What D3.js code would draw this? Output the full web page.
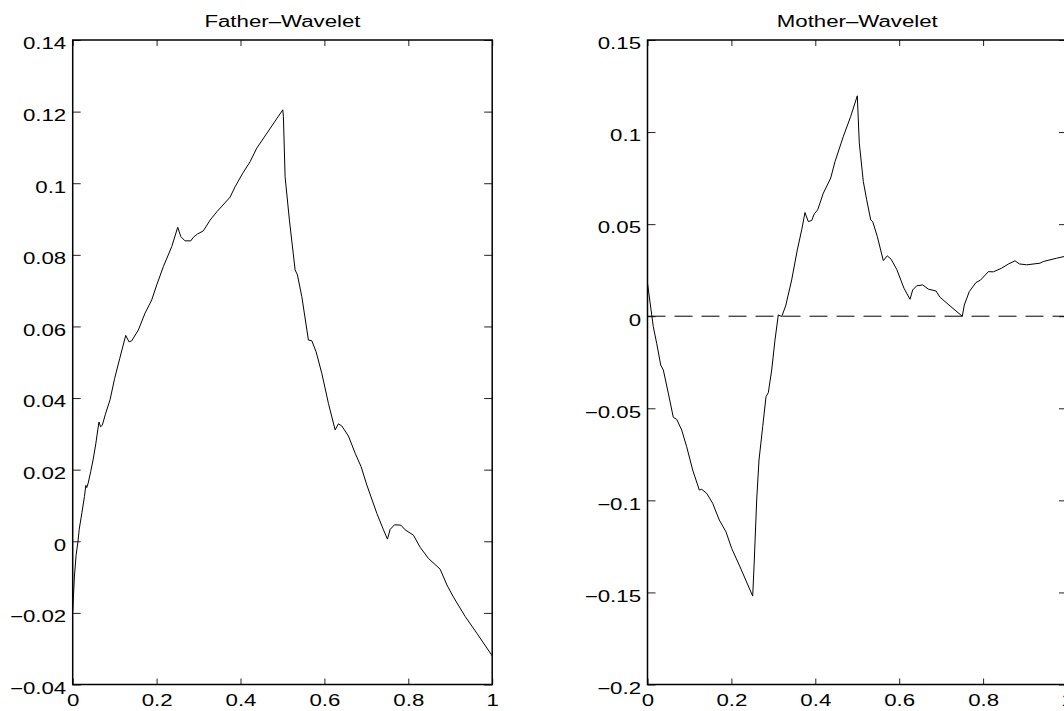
<!DOCTYPE html>
<html>
<head>
<meta charset="utf-8">
<script src="https://cdn.jsdelivr.net/npm/d3@7"></script>
<style>
  body { margin: 0; background: #fff; }
  svg { display: block; }
  text { font-family: "Liberation Sans", Arial, Helvetica, sans-serif; fill: #000; }
</style>
</head>
<body>
<div id="chart"></div>
<script>
// axis ticks / labels
const xTicks = [0, 0.2, 0.4, 0.6, 0.8, 1];
const xTickLabels = ['0', '0.2', '0.4', '0.6', '0.8', '1'];
const fatherYTicks = [-0.04, -0.02, 0, 0.02, 0.04, 0.06, 0.08, 0.1, 0.12, 0.14];
const fatherYTickLabels = ['\u22120.04', '\u22120.02', '0', '0.02', '0.04', '0.06', '0.08', '0.1', '0.12', '0.14'];
const motherYTicks = [-0.2, -0.15, -0.1, -0.05, 0, 0.05, 0.1, 0.15];
const motherYTickLabels = ['\u22120.2', '\u22120.15', '\u22120.1', '\u22120.05', '0', '0.05', '0.1', '0.15'];
const titles = ['Father\u2013Wavelet', 'Mother\u2013Wavelet'];

// father wavelet
const fatherX = [0.000, 0.004, 0.008, 0.0126, 0.0156, 0.022, 0.028, 0.0313, 0.0335, 0.037,
  0.043, 0.049, 0.055, 0.0625, 0.0665, 0.0705, 0.078, 0.089, 0.100, 0.112,
  0.1264, 0.1343, 0.1407, 0.1565, 0.1724, 0.1884, 0.2003, 0.2161, 0.2361, 0.2504,
  0.2576, 0.2678, 0.2814, 0.2876, 0.2972, 0.3115, 0.3275, 0.3434, 0.3751, 0.3871,
  0.4054, 0.4228, 0.4388, 0.5008, 0.5023, 0.5063, 0.5166, 0.5302, 0.5357, 0.5462,
  0.5619, 0.5700, 0.5803, 0.5938, 0.6096, 0.6256, 0.6334, 0.6415, 0.6573, 0.6733,
  0.6876, 0.7012, 0.7250, 0.7408, 0.7503, 0.7567, 0.7670, 0.7823, 0.7925, 0.8123,
  0.8283, 0.8481, 0.8760, 0.8920, 0.9077, 0.9356, 0.9635, 1.000];
const fatherY = [-0.0197, -0.0100, -0.0040, 0.0000, 0.0034, 0.0080, 0.0125, 0.0156, 0.0150, 0.0163,
  0.0195, 0.0230, 0.0272, 0.0333, 0.0320, 0.0324, 0.0355, 0.0395, 0.0455, 0.0510,
  0.0575, 0.0557, 0.0560, 0.0590, 0.0637, 0.0674, 0.0716, 0.0767, 0.0823, 0.0877,
  0.0851, 0.0839, 0.0839, 0.0849, 0.0858, 0.0867, 0.0897, 0.0920, 0.0961, 0.0990,
  0.1028, 0.1060, 0.1098, 0.1205, 0.1186, 0.1018, 0.0897, 0.0758, 0.0744, 0.0683,
  0.0562, 0.0560, 0.0529, 0.0469, 0.0385, 0.0311, 0.0328, 0.0322, 0.0294, 0.0246,
  0.0208, 0.0157, 0.0078, 0.0032, 0.0006, 0.0033, 0.0046, 0.0045, 0.0032, 0.0017,
  -0.0017, -0.0048, -0.0078, -0.0122, -0.0156, -0.0210, -0.0257, -0.0320];

// mother wavelet
const motherX = [0.000, 0.0138, 0.0219, 0.0315, 0.0377, 0.0496, 0.0615, 0.0696, 0.0815, 0.0934,
  0.1077, 0.1235, 0.1292, 0.1411, 0.1554, 0.1712, 0.1871, 0.2007, 0.2205, 0.2508,
  0.2546, 0.2603, 0.2658, 0.2746, 0.2825, 0.2880, 0.2961, 0.3039, 0.3118, 0.3199,
  0.3294, 0.3437, 0.3571, 0.3676, 0.3754, 0.3833, 0.3914, 0.3976, 0.4057, 0.4191,
  0.4367, 0.4470, 0.4668, 0.4844, 0.5001, 0.5049, 0.5144, 0.5225, 0.5321, 0.5368,
  0.5478, 0.5621, 0.5716, 0.5805, 0.5940, 0.6114, 0.6257, 0.6322, 0.6417, 0.6560,
  0.6694, 0.6877, 0.6973, 0.7211, 0.7504, 0.7552, 0.7671, 0.7831, 0.7943, 0.8124,
  0.8243, 0.8443, 0.8601, 0.8760, 0.8863, 0.9039, 0.9356, 0.9435, 0.9754, 0.9928, 1.000];
const motherY = [0.0179, -0.0057, -0.0147, -0.0265, -0.0292, -0.0418, -0.0549, -0.0560, -0.0618, -0.0709,
  -0.0835, -0.0944, -0.0940, -0.0962, -0.1016, -0.1107, -0.1171, -0.1261, -0.1361, -0.1520,
  -0.1324, -0.0998, -0.0781, -0.0600, -0.0437, -0.0415, -0.0292, -0.0129, 0.0007, -0.0002,
  0.0056, 0.0197, 0.0360, 0.0469, 0.0563, 0.0514, 0.0520, 0.0556, 0.0578, 0.0668,
  0.0750, 0.0840, 0.0976, 0.1085, 0.1197, 0.0940, 0.0732, 0.0632, 0.0523, 0.0514,
  0.0433, 0.0302, 0.0328, 0.0310, 0.0255, 0.0152, 0.0092, 0.0143, 0.0165, 0.0170,
  0.0147, 0.0137, 0.0103, 0.0056, 0.0000, 0.0061, 0.0134, 0.0183, 0.0197, 0.0242,
  0.0241, 0.0261, 0.0283, 0.0301, 0.0284, 0.0279, 0.0288, 0.0297, 0.0315, 0.0324, 0.0328];

const zeroLineX = [0, 1];
const zeroLineY = [0, 0];

const W = 1064, H = 711;
const SX = 1.39; // the source figure is stretched horizontally
const plotTop = 40, plotBottom = 684.5, plotW = 419.5;

const svg = d3.select('#chart').append('svg')
  .attr('width', W).attr('height', H)
  .style('background', '#fff');

function drawPanel(opts) {
  const { left, title, xs, ys, yDomain, yTicks, yLabels, zero } = opts;
  const right = left + plotW;

  const x = d3.scaleLinear().domain([0, 1]).range([left, right]);
  const y = d3.scaleLinear().domain(yDomain).range([plotBottom, plotTop]);

  const g = svg.append('g');

  // bottom axis with labels
  const bx = g.append('g')
    .attr('transform', `translate(0,${plotBottom})`)
    .call(d3.axisBottom(x).tickValues(xTicks).tickFormat((d, i) => xTickLabels[i])
      .tickSizeInner(-6).tickSizeOuter(0).tickPadding(10.5));
  // top axis, ticks only
  const tx = g.append('g')
    .attr('transform', `translate(0,${plotTop})`)
    .call(d3.axisTop(x).tickValues(xTicks).tickFormat('').tickSizeInner(-6).tickSizeOuter(0));
  // left axis with labels
  const ly = g.append('g')
    .attr('transform', `translate(${left},0)`)
    .call(d3.axisLeft(y).tickValues(yTicks).tickFormat((d, i) => yLabels[i])
      .tickSizeInner(-8).tickSizeOuter(0).tickPadding(6));
  // right axis, ticks only
  const ry = g.append('g')
    .attr('transform', `translate(${right},0)`)
    .call(d3.axisRight(y).tickValues(yTicks).tickFormat('').tickSizeInner(-8).tickSizeOuter(0));

  [bx, tx, ly, ry].forEach(a => {
    a.select('.domain').remove();
    a.selectAll('line').attr('stroke', '#222').attr('stroke-width', 1);
  });

  bx.selectAll('text')
    .attr('font-size', 16).attr('font-family', null)
    .attr('x', 0)
    .attr('transform', `scale(${SX},1)`);
  ly.selectAll('text')
    .attr('font-size', 16).attr('font-family', null)
    .attr('x', -6.5 / SX)
    .attr('dy', '0.55em')
    .attr('transform', `scale(${SX},1)`);

  // frame
  g.append('rect')
    .attr('x', left).attr('y', plotTop)
    .attr('width', right - left).attr('height', plotBottom - plotTop)
    .attr('fill', 'none').attr('stroke', '#000').attr('stroke-width', 1.5);

  // zero line
  if (zero) {
    g.append('path')
      .datum(d3.zip(zeroLineX, zeroLineY))
      .attr('fill', 'none')
      .attr('stroke', '#000')
      .attr('stroke-width', 1)
      .attr('stroke-dasharray', '18,9')
      .attr('d', d3.line().x(d => x(d[0])).y(d => y(d[1])));
  }

  // curve
  g.append('path')
    .datum(d3.zip(xs, ys))
    .attr('fill', 'none')
    .attr('stroke', '#000')
    .attr('stroke-width', 1)
    .attr('stroke-linejoin', 'round')
    .attr('d', d3.line().x(d => x(d[0])).y(d => y(d[1])));

  // title
  g.append('text')
    .attr('transform', `translate(${(left + right) / 2},27) scale(${SX},1)`)
    .attr('text-anchor', 'middle')
    .attr('font-size', 16)
    .text(title);
}

drawPanel({
  left: 72.7, title: titles[0], xs: fatherX, ys: fatherY,
  yDomain: [-0.04, 0.14], yTicks: fatherYTicks, yLabels: fatherYTickLabels, zero: false
});
drawPanel({
  left: 647.5, title: titles[1], xs: motherX, ys: motherY,
  yDomain: [-0.2, 0.15], yTicks: motherYTicks, yLabels: motherYTickLabels, zero: true
});
</script>
</body>
</html>
